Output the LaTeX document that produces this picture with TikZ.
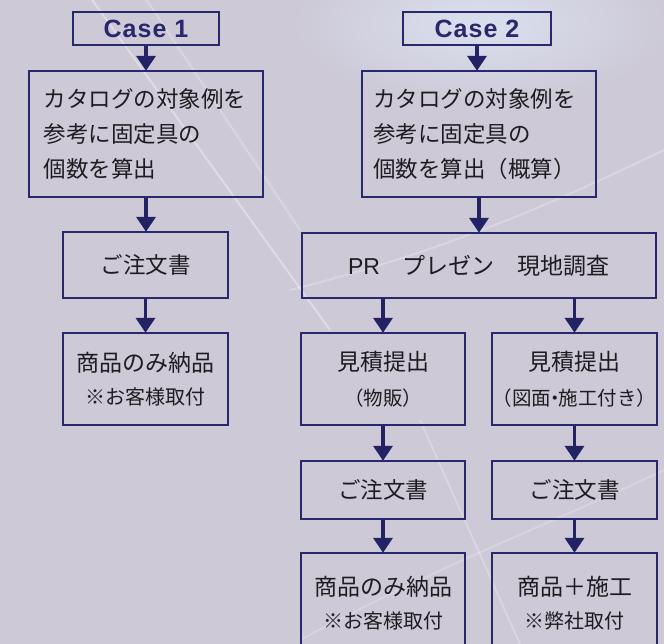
\documentclass[tikz,border=0pt]{standalone}
\usepackage{fontspec}
\newfontfamily\jp{Noto Sans CJK JP}
\newfontfamily\casefont{Liberation Sans}[LetterSpace=4]
\newfontfamily\latinfont{Liberation Sans}
\usetikzlibrary{arrows.meta}
\definecolor{bgbase}{RGB}{205,201,215}
\definecolor{bglight}{RGB}{218,224,238}
\definecolor{navy}{RGB}{40,40,108}
\definecolor{arrownavy}{RGB}{34,34,100}
\definecolor{txt}{RGB}{30,28,32}
\tikzset{
  box/.style={draw=navy, line width=1.4pt, rectangle, inner sep=0pt, text=txt, align=center, font=\jp\fontsize{22.5}{35}\selectfont},
  casebox/.style={draw=navy, line width=1.4pt, rectangle, inner sep=0pt, text=navy, font=\casefont\bfseries\fontsize{25}{28}\selectfont},
  flow/.style={draw=arrownavy, line width=3.6pt, -{Triangle[width=19pt,length=15pt]}, shorten >=-0.5pt},
  streak/.style={white, opacity=0.35, line width=2pt}
}
\begin{document}
\begin{tikzpicture}[x=1pt,y=-1pt]
\clip (0,0) rectangle (664,644);
% background
\fill[bgbase] (0,0) rectangle (664,644);
\shade[inner color=bglight, outer color=bgbase] (480,25) ellipse (190 and 80);
\draw[streak] (85,-10) -- (330,330);
\draw[streak, opacity=0.25] (140,-10) -- (300,230);
\draw[streak, opacity=0.25] (290,290) .. controls (450,250) and (560,200) .. (664,150);
\draw[streak, opacity=0.2] (300,640) .. controls (450,560) and (560,520) .. (664,470);
\draw[streak, opacity=0.25] (420,420) -- (520,644);
% Case 1 column
\node[casebox, minimum width=146pt, minimum height=33pt] (c1) at (146,28.5) {Case 1};
\node[box, minimum width=234pt, minimum height=126pt, text width=205pt, align=left, inner xsep=14.5pt] (b1) at (146,134)
  {カタログの対象例を\\参考に固定具の\\個数を算出};
\node[box, minimum width=165pt, minimum height=66pt] (o1) at (145.5,265) {ご注文書};
\node[box, minimum width=165pt, minimum height=92pt] (d1) at (145.5,379)
  {\fontsize{23}{33}\selectfont 商品のみ納品\\[-2pt]{\fontsize{20}{24}\selectfont ※お客様取付}};
% Case 2 column
\node[casebox, minimum width=148pt, minimum height=33pt] (c2) at (477,28.5) {Case 2};
\node[box, minimum width=234pt, minimum height=126pt, text width=212pt, align=left, inner xsep=11pt] (b2) at (479,134)
  {カタログの対象例を\\参考に固定具の\\個数を算出（概算）};
\node[box, minimum width=354pt, minimum height=65pt, font=\jp\fontsize{23}{28}\selectfont] (pr) at (479,265.5) {{\latinfont\fontsize{23}{28}\selectfont PR}　プレゼン　現地調査};
\node[box, minimum width=164pt, minimum height=92pt] (m1) at (383,379)
  {\fontsize{23}{33}\selectfont 見積提出\\{\fontsize{19.5}{24}\selectfont （物販）}};
\node[box, minimum width=165pt, minimum height=92pt] (m2) at (574.5,379)
  {\fontsize{23}{33}\selectfont 見積提出\\{\fontsize{19.5}{24}\selectfont \kern-0.4em（図面\kern-0.3em・\kern-0.3em 施工付き）\kern-0.4em}};
\node[box, minimum width=164pt, minimum height=58pt] (o2) at (383,490) {ご注文書};
\node[box, minimum width=165pt, minimum height=58pt] (o3) at (574.5,490) {ご注文書};
\node[box, minimum width=164pt, minimum height=101pt] (f1) at (383,603.5)
  {\fontsize{23}{33}\selectfont 商品のみ納品\\[-2pt]{\fontsize{20}{24}\selectfont ※お客様取付}};
\node[box, minimum width=165pt, minimum height=101pt] (f2) at (574.5,603.5)
  {\fontsize{23}{33}\selectfont 商品＋施工\\[-2pt]{\fontsize{20}{24}\selectfont ※弊社取付}};
% connectors
\draw[flow] (c1.south) -- (b1.north);
\draw[flow] (b1.south) -- (b1.south |- o1.north);
\draw[flow] (o1.south) -- (d1.north);
\draw[flow] (c2.south) -- (c2.south |- b2.north);
\draw[flow] (b2.south) -- (pr.north);
\draw[flow] (pr.south -| m1.north) -- (m1.north);
\draw[flow] (pr.south -| m2.north) -- (m2.north);
\draw[flow] (m1.south) -- (o2.north);
\draw[flow] (m2.south) -- (o3.north);
\draw[flow] (o2.south) -- (f1.north);
\draw[flow] (o3.south) -- (f2.north);
\end{tikzpicture}
\end{document}
